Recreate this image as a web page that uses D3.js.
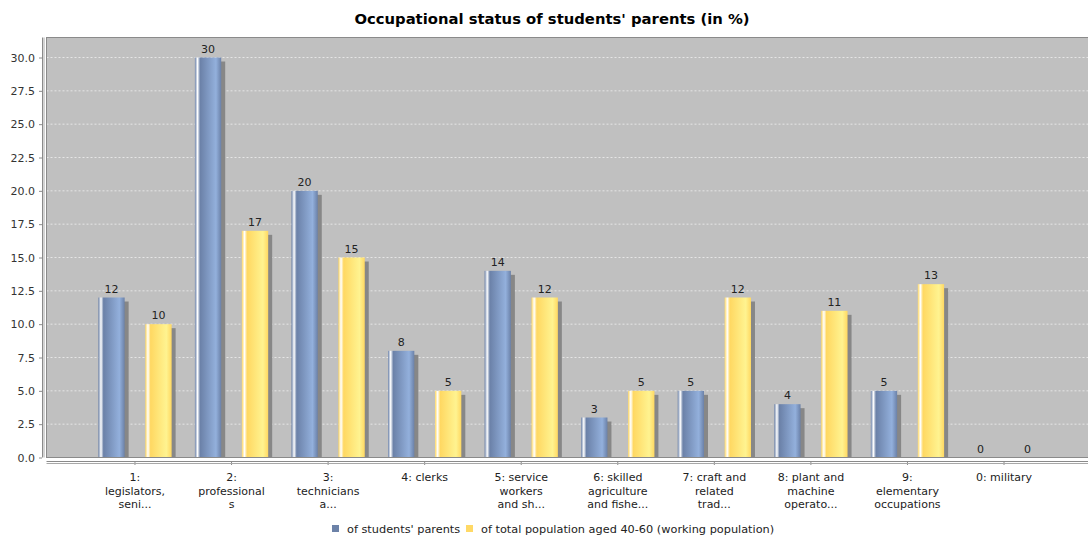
<!DOCTYPE html>
<html>
<head>
<meta charset="utf-8">
<script src="https://cdn.jsdelivr.net/npm/d3@7"></script>
<style>
  html, body { margin: 0; padding: 0; background: #fff; }
  svg { display: block; font-family: "DejaVu Sans", sans-serif; }
</style>
</head>
<body>
<svg id="chart" width="1088" height="539"></svg>
<script>
// ---- data ----
const categories = ["1", "2", "3", "4", "5", "6", "7", "8", "9", "0"];
const categoryLabels = [
  ["1:", "legislators,", "seni..."],
  ["2:", "professional", "s"],
  ["3:", "technicians", "a..."],
  ["4: clerks"],
  ["5: service", "workers", "and sh..."],
  ["6: skilled", "agriculture", "and fishe..."],
  ["7: craft and", "related", "trad..."],
  ["8: plant and", "machine", "operato..."],
  ["9:", "elementary", "occupations"],
  ["0: military"]
];
const seriesNames = ["of students' parents", "of total population aged 40-60 (working population)"];
const studentsParents = [12, 30, 20, 8, 14, 3, 5, 4, 5, 0];
const totalPopulation = [10, 17, 15, 5, 12, 5, 12, 11, 13, 0];
const yTicks = [0, 2.5, 5, 7.5, 10, 12.5, 15, 17.5, 20, 22.5, 25, 27.5, 30];
const titleText = "Occupational status of students' parents (in %)";

// ---- layout ----
const svg = d3.select("#chart");
const plot = { left: 46.5, top: 37.5, right: 1094, bottom: 457.5 };

const x = d3.scaleBand().domain(categories)
  .range([plot.left - 0.5, plot.right - 1])
  .paddingInner(0.241).paddingOuter(0.542);
const xs = d3.scaleBand().domain([0, 1]).range([0, x.bandwidth()]).paddingInner(0.44).paddingOuter(0);
const y = d3.scaleLinear().domain([0, 31.5]).range([plot.bottom, plot.top]);

const seriesColors = [
  { c0: "#6b81a8", c1: "#93b0dc", legend: "#6c82a8" },
  { c0: "#ffd862", c1: "#fff390", legend: "#ffd966" }
];

const defs = svg.append("defs");
seriesColors.forEach((c, i) => {
  const g = defs.append("linearGradient").attr("id", "grad" + i)
    .attr("x1", "0").attr("x2", "1").attr("y1", "0").attr("y2", "0");
  [[0, c.c0], [0.10, "#ffffff"], [0.20, c.c0], [0.80, c.c1], [1, c.c0]].forEach(([o, col]) => {
    g.append("stop").attr("offset", o).attr("stop-color", col);
  });
});
defs.append("clipPath").attr("id", "plotclip").append("rect")
  .attr("x", plot.left).attr("y", plot.top)
  .attr("width", plot.right - plot.left).attr("height", plot.bottom - plot.top);

// title
svg.append("text").attr("x", 552).attr("y", 24).attr("text-anchor", "middle")
  .attr("font-size", 14.8).attr("font-weight", "bold").attr("fill", "#000")
  .text(titleText);

// plot background
svg.append("rect").attr("x", plot.left).attr("y", plot.top)
  .attr("width", plot.right - plot.left).attr("height", plot.bottom - plot.top)
  .attr("fill", "#c0c0c0");

// gridlines
svg.append("g").selectAll("line").data(yTicks.filter(d => d > 0)).join("line")
  .attr("x1", plot.left).attr("x2", plot.right)
  .attr("y1", d => y(d)).attr("y2", d => y(d))
  .attr("stroke", "#ffffff").attr("stroke-opacity", 0.6)
  .attr("stroke-dasharray", "2,2").attr("stroke-width", 1);

// bars
const series = [studentsParents, totalPopulation];
const barsG = svg.append("g").attr("clip-path", "url(#plotclip)");
series.forEach((vals, si) => {
  const data = vals.map((v, i) => ({ cat: categories[i], v }));
  const g = barsG.append("g");
  // shadows
  g.selectAll("rect.shadow").data(data.filter(d => d.v > 0)).join("rect")
    .attr("class", "shadow")
    .attr("x", d => x(d.cat) + xs(si) + 4)
    .attr("y", d => y(d.v) + 4)
    .attr("width", xs.bandwidth())
    .attr("height", d => y(0) - y(d.v))
    .attr("fill", "#878787");
  g.selectAll("rect.bar").data(data.filter(d => d.v > 0)).join("rect")
    .attr("class", "bar")
    .attr("x", d => x(d.cat) + xs(si))
    .attr("y", d => y(d.v))
    .attr("width", xs.bandwidth())
    .attr("height", d => y(0) - y(d.v))
    .attr("fill", "url(#grad" + si + ")");
});

// value labels
series.forEach((vals, si) => {
  svg.append("g").selectAll("text").data(vals.map((v, i) => ({ cat: categories[i], v }))).join("text")
    .attr("x", d => x(d.cat) + xs(si) + xs.bandwidth() / 2)
    .attr("y", d => y(d.v) - 5)
    .attr("text-anchor", "middle").attr("font-size", 11).attr("fill", "#222")
    .text(d => d3.format("d")(d.v));
});

// plot border
svg.append("rect").attr("x", plot.left).attr("y", plot.top)
  .attr("width", plot.right - plot.left).attr("height", plot.bottom - plot.top)
  .attr("fill", "none").attr("stroke", "#8a8a8a").attr("stroke-width", 1);

// y axis
const yAxisG = svg.append("g").attr("transform", "translate(42,0)")
  .call(d3.axisLeft(y).tickValues(yTicks).tickFormat(d3.format(".1f")).tickSize(3).tickPadding(4));
yAxisG.select(".domain").attr("stroke", "#8a8a8a").attr("d", `M0.5,${plot.top}V${plot.bottom}`);
yAxisG.selectAll(".tick line").attr("stroke", "#8a8a8a");
yAxisG.selectAll(".tick text").attr("font-size", 11).attr("fill", "#333")
  .attr("font-family", "DejaVu Sans, sans-serif");
yAxisG.append("line").attr("x1", 2).attr("x2", 2).attr("y1", plot.top).attr("y2", plot.bottom)
  .attr("stroke", "#a8a8a8");

// x axis
const xAxisG = svg.append("g").attr("transform", "translate(0,461)")
  .call(d3.axisBottom(x).tickSize(4).tickFormat(""));
xAxisG.select(".domain").attr("stroke", "#8a8a8a").attr("d", `M${plot.left},0.5H${plot.right}`);
xAxisG.selectAll(".tick line").attr("stroke", "#8a8a8a");
xAxisG.append("line").attr("x1", plot.left).attr("x2", plot.right).attr("y1", 2.5).attr("y2", 2.5)
  .attr("stroke", "#a8a8a8");

const labG = svg.append("g");
categories.forEach((c, i) => {
  const t = labG.append("text").attr("text-anchor", "middle").attr("font-size", 11).attr("fill", "#222");
  categoryLabels[i].forEach((line, li) => {
    t.append("tspan").attr("x", x(c) + x.bandwidth() / 2).attr("y", 481 + li * 13.5).text(line);
  });
});

// legend
const legend = svg.append("g");
const legItems = [{ x: 332, tx: 347 }, { x: 466, tx: 481 }];
seriesNames.forEach((n, i) => {
  legend.append("rect").attr("x", legItems[i].x).attr("y", 525).attr("width", 7).attr("height", 7)
    .attr("fill", seriesColors[i].legend);
  legend.append("text").attr("x", legItems[i].tx).attr("y", 532.5).attr("font-size", 11.3)
    .attr("fill", "#222").text(n);
});
</script>
</body>
</html>
